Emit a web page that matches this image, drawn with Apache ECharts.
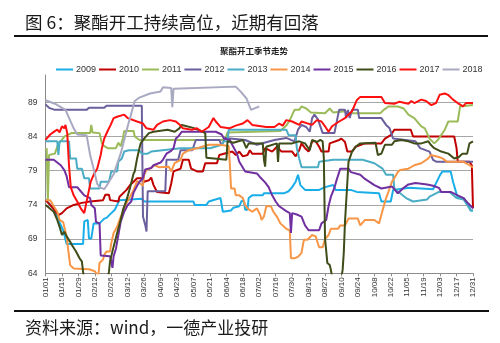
<!DOCTYPE html>
<html>
<head>
<meta charset="utf-8">
<script src="https://cdn.jsdelivr.net/npm/echarts@6/dist/echarts.min.js"></script>
<style>
html,body{margin:0;padding:0;background:#fff;}
#chart{width:500px;height:343px;}
</style>
</head>
<body>
<div id="chart"></div>
<script>
// x = day of year (0 = 01/01, 364 = 12/31), y = operating rate
const years = ['2009','2010','2011','2012','2013','2014','2015','2016','2017','2018'];
const colors = ['#1aaee8','#c00000','#9bbb59','#6c5f9e','#4bacc6','#f79646','#7030a0','#3f4d19','#ff1010','#a9a9c2'];
const tickLabels = ['01/01','01/15','01/29','02/12','02/26','03/12','03/26','04/09','04/23','05/07','05/21','06/04','06/18','07/02','07/16','07/30','08/13','08/27','09/10','09/24','10/08','10/22','11/05','11/19','12/03','12/17','12/31'];

const y2009 = [[0,74.8],[4,74],[7,73.5],[11,71.8],[15,70.3],[18,68.3],[32,68.3],[33,71.6],[36,71.8],[37,69.1],[39,69.1],[41,71.3],[46,71.3],[50,72],[52,72.1],[56,72.8],[59,73.3],[63,74.7],[82,74.9],[84,74.5],[126,74.5],[127,74],[137,74],[139,74.5],[149,75],[151,73],[158,73.2],[160,73.6],[165,73.8],[167,74.6],[169,74.5],[170,73.3],[172,73.3],[173,75],[176,75.4],[185,75.4],[186,75.7],[203,75.7],[207,76],[210,76.6],[213,77.4],[215,78.4],[217,76.9],[221,76.2],[233,76.2],[238,76.6],[245,76.9],[247,76.2],[260,76.2],[265,75.9],[284,75.7],[286,74.5],[294,74.5],[296,76.2],[310,76.5],[330,76.3],[336,78.4],[338,78.9],[345,78.9],[347,77.4],[351,75],[356,75],[360,74],[362,73.2],[364,73.2]];
const y2010 = [[0,74.7],[4,74],[8,73.2],[11,72.5],[14,72.8],[18,73.5],[24,74],[31,74.3],[38,74.5],[49,74.7],[51,75.5],[54,75.5],[55,74.7],[62,74.5],[63,75.2],[69,76.2],[72,76.9],[75,77.4],[78,77.9],[82,77.9],[84,77.4],[88,77.6],[90,78],[92,76.9],[95,75.9],[105,75.7],[107,77.1],[109,78.9],[115,79.3],[117,80.6],[122,80.6],[124,79.3],[129,78.9],[134,78.9],[136,80.1],[146,80.1],[148,81.3],[159,81.8],[162,81.3],[165,81.8],[168,81.1],[172,81.3],[174,82],[176,81.5],[185,81.5],[187,82.3],[193,81.8],[197,82.5],[201,81.8],[210,81.8],[213,81.1],[216,82],[218,83],[221,82.3],[224,81.8],[227,83.3],[230,83.3],[233,82.5],[235,81.8],[241,81.8],[242,83],[250,83.5],[252,83.7],[255,83.2],[257,81.8],[261,81.8],[264,82.5],[272,83],[286,83],[289,83.7],[294,84.2],[297,85],[311,85],[313,84],[348,84],[350,82.3],[351,80.3],[361,80.3],[363,79.8],[364,73.5]];
const y2011 = [[0,82],[1,82.3],[2,74.6],[3,81.3],[8,81.5],[11,83],[13,83.3],[16,84],[22,84.5],[38,84.5],[39,85.7],[40,84.6],[46,84.5],[48,83],[50,82.6],[53,82.3],[60,82.3],[62,83.1],[64,82.6],[66,83.8],[67,84.8],[75,84.8],[76,84],[80,83.5],[86,83.5],[150,83.5],[153,83.7],[155,84.6],[200,84.8],[205,85.6],[208,86.4],[212,87.9],[216,87.9],[218,88.4],[222,88.1],[226,87.5],[238,87.4],[242,88.1],[245,87.5],[255,87.7],[258,87.4],[285,87.4],[288,87.9],[292,88.4],[300,88.4],[305,88.1],[309,87.2],[314,86.7],[320,85.5],[323,85.2],[327,83.7],[331,83],[334,83.5],[340,85],[343,86.2],[351,86.2],[353,88.4],[364,88.6]];
const y2012 = [[0,88.7],[3,88.2],[8,87.9],[35,87.9],[37,88.2],[50,88.2],[52,88.5],[82,88.5],[83,72.3],[85,71],[86,70.1],[87,76],[102,76],[103,80.6],[113,80.6],[115,82],[125,82],[128,83.5],[148,83.5],[150,82.7],[153,83.8],[170,83.5],[180,82.8],[195,83.5],[205,83.8],[212,83.3],[215,85],[218,85.7],[222,85.4],[225,84.7],[227,86.7],[229,87.2],[232,86.5],[236,84.5],[246,84.5],[250,87.9],[255,87.9],[256,86.7],[257.5,87.9],[259,86.7],[261,87.9],[266,87.9],[267,86.7],[286,86.7],[290,85.7],[293,85.2],[296,83.7],[315,83.3],[319,82.3],[327,81.8],[330,80.6],[333,80.3],[364,80.3]];
const y2013 = [[0,83.3],[10,83.3],[11,81.3],[12,83.3],[20,83.3],[21,80.8],[26,80.8],[27,79.3],[31,79.3],[33,77.9],[37,77.9],[38,76.4],[46,76.4],[47,77.4],[54,77.4],[56,78.9],[61,78.9],[62,80.3],[65,80.8],[67,81.8],[71,82],[80,82],[82,81.5],[87,81.5],[90,81.8],[115,82.3],[140,82.3],[150,82.8],[152,83.3],[155,83.3],[156,85],[205,85],[207,84.2],[213,84.2],[214,82.3],[216,80.8],[218,79.5],[232,79.5],[233,80.3],[245,80.6],[270,80.6],[280,80.1],[287,79.3],[290,78.4],[296,78.4],[297,76.4],[302,75.7],[307,75],[313,74.5],[325,74.8],[327,75.2],[335,75.9],[344,75.9],[350,75],[356,74.8],[359,74],[362,73.2],[364,73.2]];
const y2014 = [[0,74.7],[4,74.7],[7,73.8],[10,73],[12,71.8],[15,71.5],[18,69.4],[19,67.9],[21,65.2],[24,64.7],[37,64.6],[42,64.3],[45,63.6],[46,65.5],[49,66],[50,66.7],[52,67.2],[55,67.2],[56,68.4],[58,69.9],[61,70.8],[63,71.8],[66,73],[69,74.3],[72,75.2],[75,76.2],[78,77.5],[80,77.2],[83,76.8],[84,78.4],[86,79.1],[89,79.3],[93,79.8],[97,79.5],[105,79.6],[107,78.9],[110,80.1],[115,80.6],[117,81.5],[122,82],[129,82.3],[139,82.8],[148,82.8],[156,82.6],[157,79.8],[158,76.4],[161,76.4],[162,75.4],[165,75.4],[168,75],[170,74],[172,73.5],[176,73],[180,73.5],[183,72.5],[184,71.8],[186,72.3],[188,73.8],[192,73.8],[194,73],[197,72.3],[200,71.3],[205,70.5],[208,70.3],[209,66.2],[212,66.2],[215,66.4],[218,67],[220,68.9],[223,68.9],[227,69.6],[230,69.4],[233,67.8],[236,67.8],[238,69],[241,69.6],[243,70.5],[249,70.5],[251,71],[255,71],[258,72],[266,72],[268,71],[272,71.8],[280,71.8],[284,71.3],[287,73.2],[290,75],[293,76.4],[295,77.4],[297,77.9],[300,78.8],[302,79.1],[309,79.3],[314,79.8],[320,80.1],[326,80.8],[328,81.3],[335,81],[338,80.8],[342,80.3],[356,80.3],[361,79.8],[364,79.5]];
const y2015 = [[0,80.6],[7,80.6],[13,79.8],[16,79.1],[18,78.2],[20,76.6],[27,76.6],[30,76],[33,75.4],[38,75],[39,74],[42,73.5],[43,71.5],[46,71.3],[47,66.6],[55,66.5],[56,65.7],[57,64.8],[58,66.5],[60,67.6],[61,68.6],[64,71.5],[67,73],[70,74],[73,74.5],[75,75.8],[78,76.8],[80,77.4],[83,77.9],[85,79.2],[90,79.4],[92,79.8],[98,80.2],[100,80.6],[103,81.5],[107,81.9],[109,82.3],[111,83.7],[113,84],[116,84.7],[145,84.7],[150,84.3],[152,83.7],[157,83.5],[159,82.8],[163,81.5],[165,80.3],[170,78.9],[180,78.6],[183,78],[187,77.3],[190,76.6],[193,75.4],[196,74.5],[199,73.8],[205,73.1],[208,72.8],[209,69.9],[210,72.8],[214,72.6],[218,72.3],[221,71],[224,70.3],[233,70.3],[235,71.3],[239,71.8],[241,73.8],[243,75.2],[246,76.5],[248,77.7],[251,79.3],[258,79.3],[260,78.8],[268,78.4],[272,77.8],[280,76.9],[286,76.4],[295,76.7],[300,75.7],[305,76.5],[309,77],[315,77.2],[325,77],[330,76.8],[335,76.5],[337,75.9],[345,75.9],[351,75.4],[356,75],[360,74.2],[364,73.5]];
const y2016 = [[0,74],[3,73.6],[7,73],[10,71.8],[12,70.8],[14,69.6],[16,70.1],[18,69.4],[21,68.6],[23,68],[26,67.2],[29,66.2],[31,65.7],[32,64.2],[34,62],[52,62],[54,64.2],[55,65.8],[58,67.9],[61,69.9],[64,71.8],[66,73.3],[69,74.7],[72,76.5],[75,78.6],[76,78.9],[78,80.8],[80,82.3],[81,83],[84,83.7],[88,84.5],[92,84.7],[104,85],[110,84.7],[114,85.2],[116,85.7],[125,85.3],[130,85],[136,84.5],[137,80.9],[154,80.6],[155,83.3],[160,83.1],[168,83.5],[171,82.3],[173,83],[185,83],[186,80.6],[187,79.6],[188,82.5],[197,83],[198,80.3],[199,83],[210,83],[216,83.3],[221,83],[225,82],[227,83.5],[231,83.2],[234,83.5],[236,83.3],[237,80.8],[238,69.1],[240,65.5],[242,65.2],[243,64.5],[245,62.5],[251,62.5],[253,64.5],[254,67.1],[255,71.5],[256.7,76.4],[258,80.3],[261,81.8],[264,82.5],[268,83],[281,83.1],[283,81.3],[286,81.5],[289,82.8],[295,82.8],[297,83.3],[303,83.5],[309,83.3],[314,83],[320,83],[326,83.3],[328,82.8],[331,82.3],[337,81.8],[343,81.5],[348,80.8],[352,81],[355,81.5],[359,81.5],[361,83],[364,83.3]];
const y2017 = [[0,83.5],[4,84.3],[8,84.8],[10,85],[12,84.6],[14,85.5],[16,85.2],[17,85.7],[18.5,84.5],[20,79.8],[21.5,76.6],[24,75.4],[27,74.5],[30,73.5],[33,72.8],[34.5,72.8],[35.6,75],[38.5,77.4],[41,78.4],[44,79.3],[47,81.3],[48,82.3],[50,83.7],[52.6,84.7],[55.5,85.7],[58,86.7],[61,86.9],[67,87.2],[70,86.7],[78,86.2],[83,85.9],[86,85.2],[92,85],[95,85.7],[100,86.2],[106,86.4],[111,86.2],[114.5,85.7],[117,85.2],[124.5,85],[129,85.2],[133,84.7],[139,85.4],[143,86.7],[145,86.2],[149,85.4],[156.5,85.2],[162,85.6],[168,85.9],[172,86.4],[176,85.7],[188,85.4],[195,85.4],[199,85.9],[202,85.6],[205,86.4],[210,86.2],[216,85.7],[218,86.2],[227,85.7],[231,86.4],[235,86.2],[238,85.5],[241,84.7],[244,85.5],[250,86.2],[255,86.7],[261,87.7],[265,89.3],[268,89.8],[286,89.8],[289,88.9],[297,88.8],[301.5,89.1],[306,88.9],[309,88.8],[311.5,89.2],[314,88.9],[320,89.4],[324,89.2],[328.5,88.6],[332.5,88.9],[335.6,90.1],[340,90.3],[342.7,90.1],[347,89.4],[351,88.9],[355.5,88.4],[358,88.9],[364,88.9]];
const y2018 = [[0,89.3],[8,88.8],[12,88.4],[17,87.9],[24,85.2],[27,84.3],[35,84.2],[38,81.3],[41,79.3],[44,77.1],[46,76.6],[50,76.3],[52,76.8],[58,78.5],[64,81.5],[70,85.5],[76,89.2],[80,89.7],[89,90.3],[98,90.6],[100,91.2],[107,91.1],[108,88.3],[109,91],[162,91.3],[166,90.6],[171,89.6],[175,87.9],[179,88.2],[182,88.4]];

const seriesData = [y2009,y2010,y2011,y2012,y2013,y2014,y2015,y2016,y2017,y2018];

const chart = echarts.init(document.getElementById('chart'), null, {renderer:'canvas'});
const cjk = '"Noto Sans CJK SC", "Noto Sans", sans-serif';
chart.setOption({
  animation: false,
  backgroundColor: '#ffffff',
  textStyle: {fontFamily: '"Liberation Sans", Arial, sans-serif'},
  graphic: [
    {type:'text', x:25, y:22.5, style:{text:'图 6：聚酯开工持续高位，近期有回落', font:'17.5px ' + cjk, fill:'#1a1a1a', textVerticalAlign:'middle', verticalAlign:'middle'}},
    {type:'line', shape:{x1:14, y1:36, x2:488, y2:36}, style:{stroke:'#111', lineWidth:2}},
    {type:'text', x:254, y:51, style:{text:'聚酯开工季节走势', font:'bold 8.5px ' + cjk, fill:'#222', textAlign:'center', align:'center', textVerticalAlign:'middle', verticalAlign:'middle'}},
    {type:'line', shape:{x1:14, y1:311, x2:489, y2:311}, style:{stroke:'#111', lineWidth:2}},
    {type:'text', x:25, y:327.5, style:{text:'资料来源：wind，一德产业投研', font:'17px ' + cjk, fill:'#1a1a1a', textVerticalAlign:'middle', verticalAlign:'middle'}}
  ],
  legend: {
    data: years,
    left: 51, top: 60,
    icon: 'rect', itemWidth: 17, itemHeight: 2, itemGap: 3,
    textStyle: {fontSize: 9, color: '#333', padding: [0,0,0,-2]}
  },
  grid: {left: 45.5, right: 27, top: 75, bottom: 69.7},
  xAxis: {
    type: 'value', min: 0, max: 364, interval: 14,
    axisLine: {lineStyle: {color: '#8c8c8c', width: 1}},
    axisTick: {show: true, length: 3, lineStyle: {color: '#8c8c8c'}},
    splitLine: {show: false},
    axisLabel: {rotate: 90, fontSize: 8, color: '#333', margin: 4,
      formatter: function (v) { return tickLabels[Math.round(v / 14)] || ''; }}
  },
  yAxis: {
    type: 'value', min: 64, max: 93, interval: 5,
    axisLine: {show: true, lineStyle: {color: '#8c8c8c', width: 1}},
    axisTick: {show: false},
    axisLabel: {fontSize: 8.5, color: '#333', margin: 8, showMaxLabel: false},
    splitLine: {show: true, showMaxLine: false,
      lineStyle: {color: ['#a6a6a6','#a6a6a6','#a6a6a6','#a6a6a6','#a6a6a6','#a6a6a6','rgba(0,0,0,0)'], width: 1}}
  },
  series: years.map(function (y, i) {
    return {
      name: y, type: 'line', data: seriesData[i],
      showSymbol: false, symbol: 'none',
      color: colors[i],
      lineStyle: {color: colors[i], width: 2},
      itemStyle: {color: colors[i]},
      emphasis: {disabled: true},
      clip: true
    };
  })
});
</script>
</body>
</html>
